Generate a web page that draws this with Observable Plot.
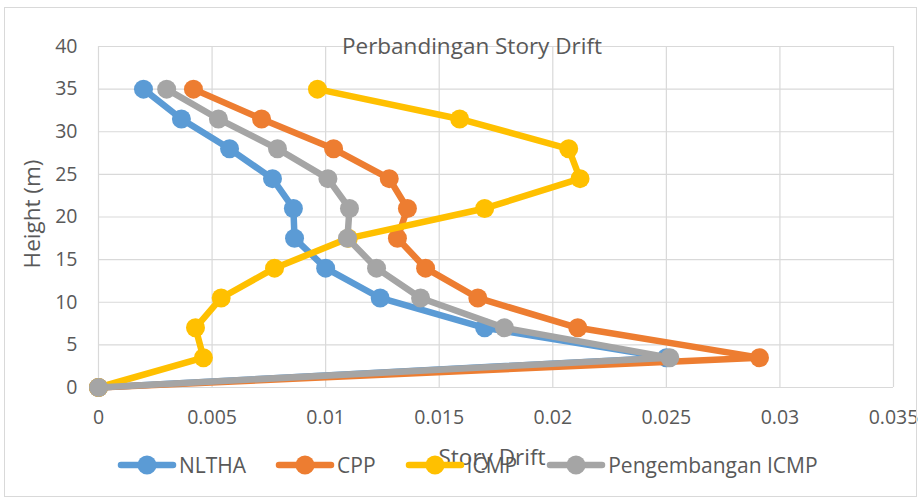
<!DOCTYPE html>
<html>
<head>
<meta charset="utf-8">
<script src="https://cdn.jsdelivr.net/npm/d3@7"></script>
<script src="https://cdn.jsdelivr.net/npm/@observablehq/plot@0.6"></script>
<style>
  html, body { margin: 0; padding: 0; background: #fff; }
  #wrap { position: relative; width: 922px; height: 502px; font-family: "Open Sans", sans-serif; }
  #border { position: absolute; left: 4px; top: 7px; width: 913px; height: 490px; border: 1px solid #d9d9d9; box-sizing: border-box; pointer-events: none; }
  #legend { position: absolute; top: 451px; left: 117px; display: flex; align-items: center; font-size: 21px; color: #595959; }
  .item { display: flex; align-items: center; margin-right: 29px; }
  .item span { margin-left: 2px; }
</style>
</head>
<body>
<div id="wrap"><div id="border"></div></div>
<script>
const heights = [0, 3.5, 7, 10.5, 14, 17.5, 21, 24.5, 28, 31.5, 35];
const seriesNames = ["NLTHA", "CPP", "ICMP", "Pengembangan ICMP"];
const seriesColors = ["#5B9BD5", "#ED7D31", "#FFC000", "#A5A5A5"];
const nlthaDrift = [0, 0.0250, 0.0170, 0.0124, 0.0100, 0.00863, 0.00858, 0.00766, 0.00577, 0.00365, 0.00198];
const cppDrift   = [0, 0.0291, 0.0211, 0.0167, 0.0144, 0.01316, 0.0136, 0.0128, 0.01035, 0.00718, 0.00418];
const icmpDrift  = [0, 0.00462, 0.00427, 0.0054, 0.00775, 0.0110, 0.0170, 0.0212, 0.0207, 0.0159, 0.00964];
const pengDrift  = [0, 0.02515, 0.01787, 0.01418, 0.01224, 0.01096, 0.01105, 0.0101, 0.00788, 0.00528, 0.0030];
const xTicks = [0, 0.005, 0.01, 0.015, 0.02, 0.025, 0.03, 0.035];
const yTicks = [0, 5, 10, 15, 20, 25, 30, 35, 40];
const title = "Perbandingan Story Drift";
const xTitle = "Story Drift";
const yTitle = "Height (m)";

const allDrifts = [nlthaDrift, cppDrift, icmpDrift, pengDrift];
const series = allDrifts.map((vals, i) => vals.map((v, j) => ({name: seriesNames[i], x: v, y: heights[j]})));

const textColor = "#595959";
const marks = [
  Plot.ruleX(xTicks, {stroke: "#d9d9d9", strokeWidth: 1.2}),
  Plot.ruleY(yTicks, {stroke: "#d9d9d9", strokeWidth: 1.2}),
  Plot.axisX(xTicks, {tickSize: 0, tickPadding: 23, fontSize: 19.5, fill: textColor, label: null,
    tickFormat: d => d === 0 ? "0" : String(+d.toFixed(3))}),
  Plot.axisY(yTicks, {tickSize: 0, tickPadding: 21, fontSize: 19.5, fill: textColor, label: null}),
];
series.forEach((s, i) => {
  marks.push(Plot.line(s, {x: "x", y: "y", stroke: seriesColors[i], strokeWidth: 6.5, strokeLinejoin: "round", strokeLinecap: "round"}));
  marks.push(Plot.dot(s, {x: "x", y: "y", r: 9.5, fill: seriesColors[i], stroke: "none"}));
});
marks.push(Plot.text([title], {frameAnchor: "top", dx: -24, dy: 0, fontSize: 22.5, fill: textColor, lineAnchor: "middle"}));
marks.push(Plot.text([xTitle], {frameAnchor: "bottom", dx: -4, dy: 70, fontSize: 22.5, fill: textColor, lineAnchor: "middle"}));
marks.push(Plot.text([yTitle], {frameAnchor: "left", textAnchor: "middle", dx: -66, dy: -3, rotate: -90, fontSize: 22.5, fill: textColor, lineAnchor: "middle"}));

const chart = Plot.plot({
  width: 922, height: 502,
  marginLeft: 98, marginRight: 29, marginTop: 46, marginBottom: 115,
  style: {fontFamily: "'Open Sans', sans-serif", background: "transparent"},
  x: {domain: [0, 0.035]},
  y: {domain: [0, 40]},
  marks
});
const wrap = document.getElementById("wrap");
wrap.insertBefore(chart, wrap.firstChild);

const legend = document.createElement("div");
legend.id = "legend";
seriesNames.forEach((n, i) => {
  const item = document.createElement("div");
  item.className = "item";
  item.innerHTML = `<svg width="60" height="22"><line x1="4" y1="11" x2="56" y2="11" stroke="${seriesColors[i]}" stroke-width="6.5" stroke-linecap="round"/><circle cx="30" cy="11" r="9.5" fill="${seriesColors[i]}"/></svg><span>${n}</span>`;
  legend.appendChild(item);
});
wrap.appendChild(legend);
</script>
</body>
</html>
